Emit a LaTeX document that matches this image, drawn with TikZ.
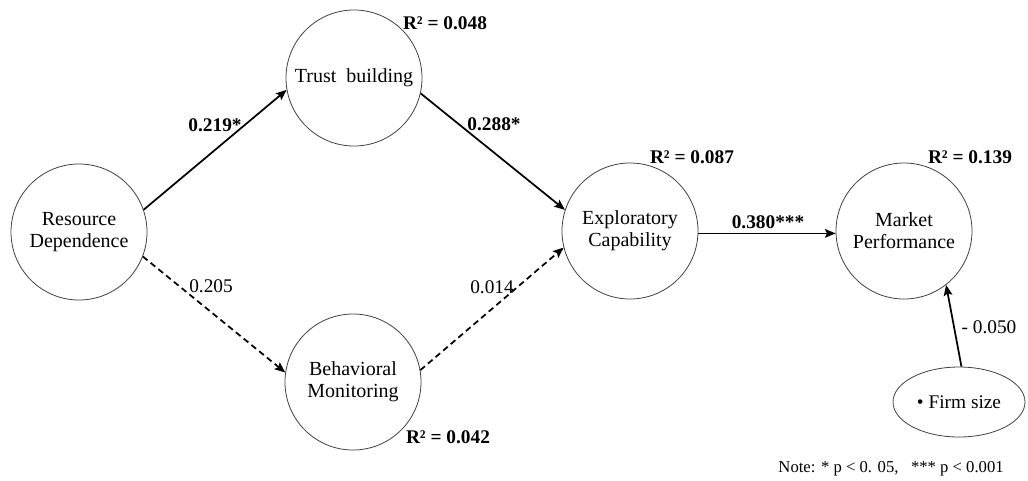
\documentclass[tikz,border=0pt]{standalone}
\usepackage{fontspec}
\setmainfont{Liberation Serif}
\usetikzlibrary{arrows.meta,shapes.geometric}
\begin{document}
\begin{tikzpicture}[x=0.75pt,y=-0.75pt,
  construct/.style={circle,draw=black!75,line width=0.6pt,minimum size=102pt,inner sep=0pt,align=center,font=\fontsize{15}{16.5}\selectfont},
  ctrl/.style={ellipse,draw=black!75,line width=0.6pt,minimum width=99pt,minimum height=52.5pt,inner sep=0pt,font=\fontsize{14.5}{16.5}\selectfont},
  path/.style={line width=1.3pt,-{Stealth[length=8pt,width=6.5pt,inset=1.5pt]}},
  nspath/.style={path,dash pattern=on 4.5pt off 3pt},
  coef/.style={font=\bfseries\fontsize{14.5}{16}\selectfont,inner sep=1pt},
  ncoef/.style={font=\fontsize{14.5}{16}\selectfont,inner sep=1pt},
  rsq/.style={font=\bfseries\fontsize{14.5}{16}\selectfont,inner sep=1pt}]
\useasboundingbox (0,0) rectangle (1028,480);
\node[construct] (rd) at (79,232) {Resource\\Dependence};
\node[construct] (tb) at (354,78) {Trust\ \ building};
\node[construct] (bm) at (353,382) {Behavioral\\Monitoring};
\node[construct] (ec) at (630,231) {Exploratory\\Capability};
\node[construct] (mp) at (904,231) {Market\\Performance};
\node[ctrl] (fs) at (959,402) {\textbullet\ Firm size};

\draw[path] (rd.19) -- (tb.190);
\draw[path] (tb.347) -- (ec.162);
\draw[nspath] (rd.339) -- (bm.172);
\draw[nspath] (bm.10) -- (ec.194);
\draw[path] (ec.358) -- (mp.182);
\draw[path] (fs.86) -- (mp.308);

\node[coef] (l1) at (215,125) {0.219*};
\node[coef] (l2) at (494,124) {0.288*};
\node[ncoef] (l3) at (211,286) {0.205};
\node[ncoef] (l4) at (492,287) {0.014};
\node[coef] (l5) at (768,222) {0.380***};
\node[ncoef] (l6) at (989,327) {- 0.050};

\node[rsq] (r1) at (445,23) {R² = 0.048};
\node[rsq] (r2) at (448,437) {R² = 0.042};
\node[rsq] (r3) at (692,157) {R² = 0.087};
\node[rsq] (r4) at (970,157) {R² = 0.139};

\node[anchor=east,font=\fontsize{12.5}{14}\selectfont,inner sep=0pt] (note) at (1004,469) {Note: * p < 0. 05,\ \ \ *** p < 0.001};
\end{tikzpicture}
\end{document}
